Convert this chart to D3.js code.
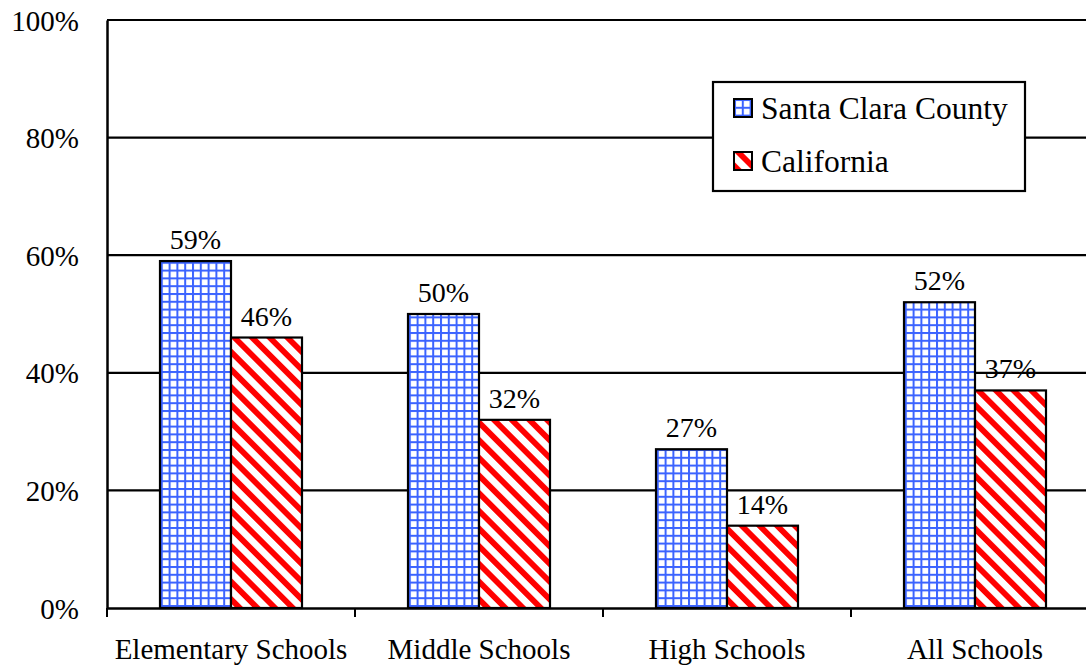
<!DOCTYPE html>
<html>
<head>
<meta charset="utf-8">
<script src="https://cdn.jsdelivr.net/npm/d3@7"></script>
<style>
  body { margin: 0; background: #fff; }
  svg { display: block; }
  svg text { font-family: "Liberation Serif", Tinos, "Times New Roman", Times, "DejaVu Serif", serif; fill: #000; }
</style>
</head>
<body>
<svg id="chart" width="1086" height="665"></svg>
<script>
// Share of schools by level, Santa Clara County vs California
const categories = ['Elementary Schools', 'Middle Schools', 'High Schools', 'All Schools'];
const seriesNames = ['Santa Clara County', 'California'];
const santaClara = [59, 50, 27, 52];
const california = [46, 32, 14, 37];
const yTicks = [0, 20, 40, 60, 80, 100];

const svg = d3.select('#chart');
const margin = {top: 20, left: 107, bottom: 57};
const plotW = 248 * categories.length;
const plotH = 665 - margin.top - margin.bottom;

// fill patterns
const defs = svg.append('defs');
const grid = defs.append('pattern')
  .attr('id', 'gridPat').attr('patternUnits', 'userSpaceOnUse')
  .attr('width', 7.8).attr('height', 7.8);
grid.append('rect').attr('width', 7.8).attr('height', 7.8).attr('fill', '#fff');
grid.append('rect').attr('x', 0).attr('width', 2).attr('height', 7.8).attr('fill', '#3b63ff');
grid.append('rect').attr('y', 0).attr('width', 7.8).attr('height', 2).attr('fill', '#3b63ff');

const stripe = defs.append('pattern')
  .attr('id', 'stripePat').attr('patternUnits', 'userSpaceOnUse')
  .attr('width', 12.5).attr('height', 12.5)
  .attr('patternTransform', 'rotate(-45)');
stripe.append('rect').attr('width', 12.5).attr('height', 12.5).attr('fill', '#fff');
stripe.append('rect').attr('width', 5.8).attr('height', 12.5).attr('fill', '#ff0000');

const fills = ['url(#gridPat)', 'url(#stripePat)'];

const g = svg.append('g').attr('transform', `translate(${margin.left},${margin.top})`);

const x = d3.scaleBand().domain(categories).range([0, plotW]).paddingInner(0).paddingOuter(0);
const y = d3.scaleLinear().domain([0, 100]).range([plotH, 0]);
const barW = 71;

// gridlines
g.selectAll('line.grid').data(yTicks.filter(d => d > 0)).enter().append('line')
  .attr('x1', 0).attr('x2', plotW)
  .attr('y1', d => y(d)).attr('y2', d => y(d))
  .attr('stroke', '#000').attr('stroke-width', 2.2);

// bars
const rows = categories.map((c, i) => ({c, vals: [santaClara[i], california[i]]}));
const grp = g.selectAll('g.cat').data(rows).enter().append('g')
  .attr('transform', d => `translate(${x(d.c) + x.bandwidth() / 2},0)`);

grp.selectAll('rect').data(d => d.vals).enter().append('rect')
  .attr('x', (d, j) => (j - 1) * barW)
  .attr('y', d => y(d))
  .attr('width', barW)
  .attr('height', d => plotH - y(d))
  .attr('fill', (d, j) => fills[j])
  .attr('stroke', '#000').attr('stroke-width', 2.2);

grp.selectAll('text').data(d => d.vals).enter().append('text')
  .attr('x', (d, j) => (j - 0.5) * barW)
  .attr('y', d => y(d) - 12)
  .attr('text-anchor', 'middle')
  .attr('font-size', 28)
  .text(d => d + '%');

// y axis
const yAxis = g.append('g').call(d3.axisLeft(y).tickValues(yTicks).tickSize(0).tickFormat(d => d + '%'));
yAxis.attr('font-family', null);
yAxis.select('.domain').attr('stroke', '#000').attr('stroke-width', 2.5);
yAxis.selectAll('text').attr('font-size', 29)
  .attr('x', -28).attr('dy', '0.35em');

// x axis
const xAxis = g.append('g').attr('transform', `translate(0,${plotH})`)
  .call(d3.axisBottom(x).tickSize(0).tickSizeOuter(0));
xAxis.attr('font-family', null);
xAxis.select('.domain').attr('stroke', '#000').attr('stroke-width', 2.5);
xAxis.selectAll('.tick text').attr('font-size', 29)
  .attr('y', 51).attr('dy', 0);
g.selectAll('line.xtick').data(d3.range(categories.length)).enter().append('line')
  .attr('x1', i => i * x.step()).attr('x2', i => i * x.step())
  .attr('y1', plotH).attr('y2', plotH + 9)
  .attr('stroke', '#000').attr('stroke-width', 2);

// legend
const leg = svg.append('g').attr('transform', 'translate(713,82)');
leg.append('rect').attr('width', 312).attr('height', 109)
  .attr('fill', '#fff').attr('stroke', '#000').attr('stroke-width', 2.2);
seriesNames.forEach((name, j) => {
  const row = leg.append('g').attr('transform', `translate(21,${17 + j * 53})`);
  row.append('rect').attr('width', 18).attr('height', 18)
    .attr('fill', fills[j]).attr('stroke', '#000').attr('stroke-width', 2);
  row.append('text').attr('x', 27).attr('y', 20).attr('font-size', 31.5).text(name);
});
</script>
</body>
</html>
